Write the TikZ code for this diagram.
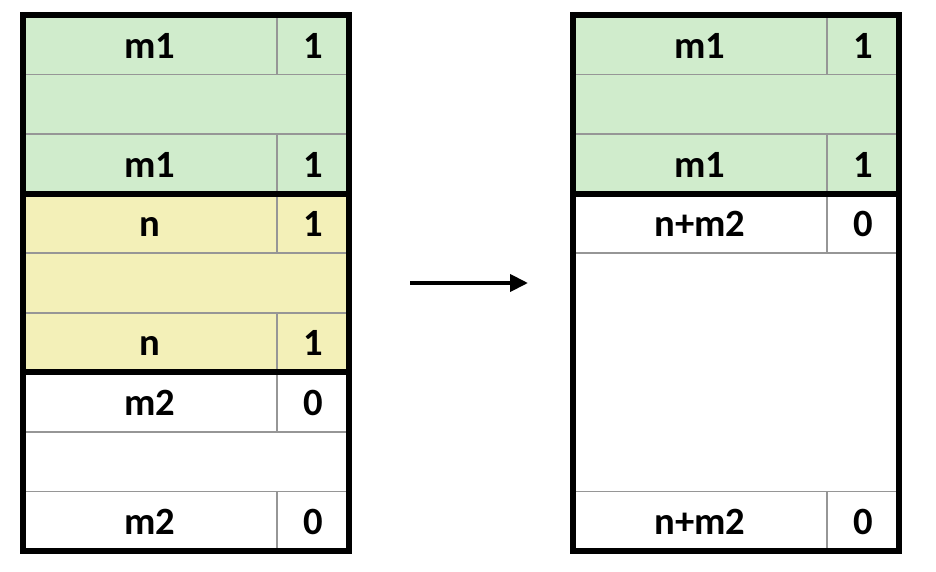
\documentclass[tikz,border=0pt]{standalone}
\usepackage{fontspec}
\setmainfont{Carlito}
\usetikzlibrary{arrows.meta,positioning}
\definecolor{blockgreen}{RGB}{208,236,204}
\definecolor{blockyellow}{RGB}{243,240,184}
\definecolor{cellline}{RGB}{150,150,150}
\tikzstyle{cell}=[rectangle,draw=cellline,line width=0.75pt,inner sep=0pt,outer sep=0pt,
                  minimum height=29.78pt,text height=13.4pt,text depth=0pt,
                  font=\fontsize{19.3}{21}\selectfont\bfseries]
\tikzstyle{wide}=[cell,minimum width=127.25pt]
\tikzstyle{flag}=[cell,minimum width=36pt]
\tikzstyle{gap}=[cell,minimum width=163.25pt]
\tikzstyle{outline}=[draw=black,line width=3pt]
\tikzstyle{arrow}=[-{Triangle[length=9pt,width=8.5pt]},line width=2pt]

\begin{document}
\begin{tikzpicture}[node distance=0pt]
      \useasboundingbox (0,0) rectangle (468pt,-286pt);

      % left block
      \node[wide,fill=blockgreen,anchor=north west] (l1) at (11.25pt,-7.5pt) {m1};
      \node[flag,fill=blockgreen,right=of l1] (l1f) {1};
      \node[gap,fill=blockgreen,below right=of l1.south west] (l2) {};
      \node[wide,fill=blockgreen,below right=of l2.south west] (l3) {m1};
      \node[flag,fill=blockgreen,right=of l3] (l3f) {1};
      \node[wide,fill=blockyellow,below right=of l3.south west] (l4) {n};
      \node[flag,fill=blockyellow,right=of l4] (l4f) {1};
      \node[gap,fill=blockyellow,below right=of l4.south west] (l5) {};
      \node[wide,fill=blockyellow,below right=of l5.south west] (l6) {n};
      \node[flag,fill=blockyellow,right=of l6] (l6f) {1};
      \node[wide,fill=white,below right=of l6.south west] (l7) {m2};
      \node[flag,fill=white,right=of l7] (l7f) {0};
      \node[gap,fill=white,below right=of l7.south west] (l8) {};
      \node[wide,fill=white,below right=of l8.south west] (l9) {m2};
      \node[flag,fill=white,right=of l9] (l9f) {0};

      \draw[outline] (l1.north west) rectangle (l3f.south east);
      \draw[outline] (l4.north west) rectangle (l6f.south east);
      \draw[outline] (l7.north west) rectangle (l9f.south east);

      % right block
      \node[wide,minimum width=127pt,fill=blockgreen,anchor=north west] (r1) at (286.5pt,-7.5pt) {m1};
      \node[flag,fill=blockgreen,right=of r1] (r1f) {1};
      \node[gap,minimum width=163pt,fill=blockgreen,below right=of r1.south west] (r2) {};
      \node[wide,minimum width=127pt,fill=blockgreen,below right=of r2.south west] (r3) {m1};
      \node[flag,fill=blockgreen,right=of r3] (r3f) {1};
      \node[wide,minimum width=127pt,fill=white,below right=of r3.south west] (r4) {n+m2};
      \node[flag,fill=white,right=of r4] (r4f) {0};
      \node[gap,minimum width=163pt,minimum height=119.12pt,fill=white,below right=of r4.south west] (r5) {};
      \node[wide,minimum width=127pt,fill=white,below right=of r5.south west] (r6) {n+m2};
      \node[flag,fill=white,right=of r6] (r6f) {0};

      \draw[outline] (r1.north west) rectangle (r3f.south east);
      \draw[outline] (r4.north west) rectangle (r6f.south east);

      \coordinate (arrs) at (205pt,-141.5pt);
      \coordinate (arre) at (264pt,-141.5pt);
      \draw[arrow] (arrs)--(arre);
    \end{tikzpicture}
\end{document}
